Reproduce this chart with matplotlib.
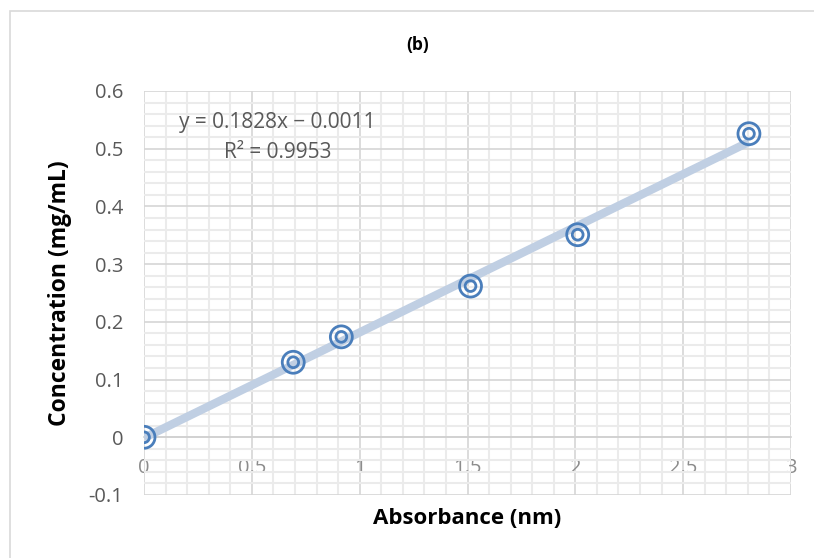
import matplotlib.pyplot as plt
import numpy as np
from matplotlib.patches import Rectangle

# data
absorbance = [0.0, 0.692, 0.915, 1.514, 2.011, 2.805]
concentration = [0.0, 0.130, 0.174, 0.262, 0.351, 0.526]
slope = 0.1828
intercept = -0.0011
eq_text = 'y = 0.1828x \u2212 0.0011'
r2_text = 'R\u00b2 = 0.9953'

plt.rcParams['font.family'] = ['Open Sans', 'DejaVu Sans']

fig = plt.figure(figsize=(8.14, 5.58), dpi=100)
ax = fig.add_axes([144/814, 1 - 495/558, (791-144)/814, (495-91)/558])

# chart frame
fig.patches.append(Rectangle((10/814, -0.1), 1.0, 1 - 11/558 + 0.1, transform=fig.transFigure,
                             fill=False, edgecolor='#d9d9d9', linewidth=1.2))

# trendline over data range
xt = np.array([min(absorbance), max(absorbance)])
ax.plot(xt, slope*xt + intercept, color='#c0cfe3', linewidth=6, solid_capstyle='butt', zorder=3)

ax.scatter(absorbance, concentration, s=250, facecolors='none', edgecolors='#4a7ebb', linewidths=2, zorder=4)
ax.scatter(absorbance, concentration, s=60, facecolors='none', edgecolors='#4a7ebb', linewidths=2, zorder=4)

ax.set_xlim(0, 3)
ax.set_ylim(-0.1, 0.6)
ax.set_xticks(np.arange(0, 3.01, 0.5))
ax.set_xticklabels(['0', '0.5', '1', '1.5', '2', '2.5', '3'])
ax.set_yticks(np.arange(-0.1, 0.61, 0.1))
ax.set_yticklabels(['-0.1', '0', '0.1', '0.2', '0.3', '0.4', '0.5', '0.6'])
ax.set_xticks(np.arange(0, 3.01, 0.1), minor=True)
ax.set_yticks(np.arange(-0.1, 0.61, 0.02), minor=True)

ax.grid(which='minor', color='#ebebeb', linewidth=1.5)
ax.grid(which='major', color='#d6d6d6', linewidth=1.2)
ax.set_axisbelow(True)

for s in ['top', 'right', 'left']:
    ax.spines[s].set_visible(False)
ax.spines['bottom'].set_position(('data', 0))
ax.spines['bottom'].set_color('#d0d0d0')
ax.spines['bottom'].set_linewidth(1.2)

ax.tick_params(which='both', length=0)
ax.tick_params(axis='x', pad=15, labelsize=14.5, labelcolor='#8c8c8c')
ax.tick_params(axis='y', pad=15, labelsize=14.5, labelcolor='#595959')

fig.text(467/814, 1 - 518/558, 'Absorbance (nm)', ha='center', va='center', fontsize=16, fontweight='bold')
fig.text(60/814, 1 - 293/558, 'Concentration (mg/mL)', ha='center', va='center', rotation=90,
         fontsize=16.5, fontweight='bold')
fig.text(418/814, 1 - 45/558, '(b)', ha='center', va='center', fontsize=12.5, fontweight='bold')

ax.text(0.62, 0.5455, eq_text, ha='center', va='center', fontsize=15, color='#595959')
ax.text(0.62, 0.4935, r2_text, ha='center', va='center', fontsize=15, color='#595959')

fig.savefig('out.png', dpi=100, facecolor='white')
